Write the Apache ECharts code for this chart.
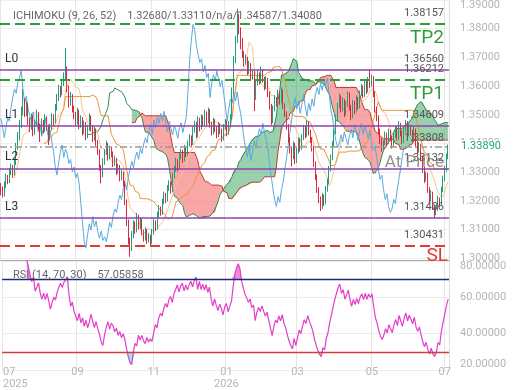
<!DOCTYPE html>
<html>
<head>
<meta charset="utf-8">
<script src="https://cdn.jsdelivr.net/npm/echarts@6/dist/echarts.min.js"></script>
<style>
  html, body { margin: 0; padding: 0; background: #fff; }
  #chart { width: 520px; height: 390px; }
</style>
</head>
<body>
<div id="chart"></div>
<script>
// daily bars: [open, high, low, close]
const bars = [
  [1.3248,1.3262,1.3220,1.3235],[1.3235,1.3250,1.3212,1.3222],[1.3222,1.3268,1.3215,1.3258],[1.3258,1.3295,1.3245,1.3281],
  [1.3281,1.3290,1.3258,1.3270],[1.3270,1.3315,1.3262,1.3302],[1.3302,1.3330,1.3290,1.3318],[1.3318,1.3325,1.3280,1.3296],
  [1.3296,1.3348,1.3288,1.3335],[1.3335,1.3402,1.3325,1.3390],[1.3390,1.3440,1.3378,1.3425],[1.3425,1.3482,1.3410,1.3468],
  [1.3468,1.3528,1.3455,1.3512],[1.3512,1.3590,1.3498,1.3545],[1.3545,1.3558,1.3492,1.3508],[1.3508,1.3548,1.3495,1.3532],
  [1.3532,1.3540,1.3465,1.3478],[1.3478,1.3490,1.3440,1.3455],[1.3455,1.3505,1.3448,1.3492],[1.3492,1.3498,1.3425,1.3440],
  [1.3440,1.3482,1.3430,1.3468],[1.3468,1.3518,1.3460,1.3501],[1.3501,1.3510,1.3448,1.3462],[1.3462,1.3470,1.3405,1.3436],
  [1.3436,1.3488,1.3428,1.3475],[1.3475,1.3482,1.3435,1.3449],[1.3449,1.3502,1.3440,1.3488],[1.3488,1.3495,1.3445,1.3458],
  [1.3458,1.3466,1.3395,1.3420],[1.3420,1.3468,1.3410,1.3455],[1.3455,1.3505,1.3446,1.3490],[1.3490,1.3502,1.3462,1.3478],
  [1.3478,1.3538,1.3470,1.3525],[1.3525,1.3572,1.3515,1.3560],[1.3560,1.3605,1.3548,1.3590],[1.3590,1.3600,1.3560,1.3575],
  [1.3575,1.3625,1.3568,1.3612],[1.3612,1.3648,1.3600,1.3630],[1.3630,1.3732,1.3622,1.3655],[1.3655,1.3668,1.3578,1.3590],
  [1.3590,1.3602,1.3525,1.3540],[1.3540,1.3580,1.3532,1.3565],[1.3565,1.3572,1.3508,1.3520],[1.3520,1.3532,1.3485,1.3498],
  [1.3498,1.3510,1.3462,1.3475],[1.3475,1.3525,1.3466,1.3510],[1.3510,1.3518,1.3450,1.3462],[1.3462,1.3498,1.3455,1.3485],
  [1.3485,1.3492,1.3428,1.3440],[1.3440,1.3480,1.3432,1.3468],[1.3468,1.3475,1.3412,1.3425],[1.3425,1.3465,1.3418,1.3452],
  [1.3452,1.3505,1.3445,1.3490],[1.3490,1.3498,1.3442,1.3455],[1.3455,1.3462,1.3405,1.3418],[1.3418,1.3458,1.3410,1.3446],
  [1.3446,1.3452,1.3392,1.3405],[1.3405,1.3412,1.3360,1.3372],[1.3372,1.3380,1.3305,1.3318],[1.3318,1.3325,1.3261,1.3290],
  [1.3290,1.3348,1.3282,1.3335],[1.3335,1.3380,1.3326,1.3368],[1.3368,1.3410,1.3360,1.3395],[1.3395,1.3402,1.3340,1.3352],
  [1.3352,1.3392,1.3345,1.3380],[1.3380,1.3388,1.3352,1.3365],[1.3365,1.3372,1.3318,1.3330],[1.3330,1.3358,1.3322,1.3345],
  [1.3345,1.3350,1.3290,1.3302],[1.3302,1.3330,1.3295,1.3318],[1.3318,1.3325,1.3268,1.3280],[1.3280,1.3308,1.3272,1.3296],
  [1.3296,1.3302,1.3250,1.3262],[1.3262,1.3270,1.3185,1.3195],[1.3195,1.3205,1.3112,1.3125],[1.3125,1.3135,1.3048,1.3060],
  [1.3060,1.3072,1.3005,1.3035],[1.3035,1.3095,1.3025,1.3082],[1.3082,1.3132,1.3070,1.3120],[1.3120,1.3128,1.3085,1.3098],
  [1.3098,1.3158,1.3090,1.3145],[1.3145,1.3152,1.3100,1.3110],[1.3110,1.3142,1.3102,1.3130],[1.3130,1.3138,1.3080,1.3092],
  [1.3092,1.3100,1.3058,1.3070],[1.3070,1.3108,1.3062,1.3095],[1.3095,1.3102,1.3050,1.3062],[1.3062,1.3088,1.3055,1.3075],
  [1.3075,1.3082,1.3043,1.3058],[1.3058,1.3102,1.3050,1.3090],[1.3090,1.3138,1.3082,1.3125],[1.3125,1.3132,1.3095,1.3108],
  [1.3108,1.3162,1.3100,1.3150],[1.3150,1.3185,1.3142,1.3172],[1.3172,1.3180,1.3148,1.3160],[1.3160,1.3208,1.3152,1.3195],
  [1.3195,1.3232,1.3188,1.3220],[1.3220,1.3228,1.3192,1.3205],[1.3205,1.3255,1.3198,1.3242],[1.3242,1.3272,1.3235,1.3260],
  [1.3260,1.3268,1.3225,1.3238],[1.3238,1.3298,1.3230,1.3285],[1.3285,1.3322,1.3278,1.3310],[1.3310,1.3350,1.3302,1.3338],
  [1.3338,1.3345,1.3302,1.3315],[1.3315,1.3365,1.3308,1.3352],[1.3352,1.3382,1.3345,1.3370],[1.3370,1.3378,1.3332,1.3345],
  [1.3345,1.3395,1.3338,1.3382],[1.3382,1.3390,1.3352,1.3365],[1.3365,1.3410,1.3358,1.3398],[1.3398,1.3432,1.3390,1.3420],
  [1.3420,1.3428,1.3390,1.3402],[1.3402,1.3458,1.3395,1.3445],[1.3445,1.3480,1.3438,1.3468],[1.3468,1.3475,1.3418,1.3430],
  [1.3430,1.3495,1.3422,1.3482],[1.3482,1.3490,1.3442,1.3455],[1.3455,1.3502,1.3448,1.3490],[1.3490,1.3498,1.3458,1.3470],
  [1.3470,1.3518,1.3462,1.3505],[1.3505,1.3512,1.3465,1.3478],[1.3478,1.3525,1.3470,1.3512],[1.3512,1.3520,1.3455,1.3468],
  [1.3468,1.3475,1.3428,1.3440],[1.3440,1.3490,1.3432,1.3478],[1.3478,1.3485,1.3440,1.3452],[1.3452,1.3460,1.3418,1.3430],
  [1.3430,1.3475,1.3422,1.3462],[1.3462,1.3470,1.3432,1.3445],[1.3445,1.3452,1.3405,1.3418],[1.3418,1.3468,1.3410,1.3455],
  [1.3455,1.3485,1.3448,1.3472],[1.3472,1.3480,1.3425,1.3438],[1.3438,1.3478,1.3430,1.3465],[1.3465,1.3502,1.3458,1.3490],
  [1.3490,1.3595,1.3482,1.3580],[1.3580,1.3705,1.3572,1.3690],[1.3690,1.3775,1.3680,1.3760],[1.3760,1.3870,1.3750,1.3815],
  [1.3815,1.3852,1.3780,1.3795],[1.3795,1.3805,1.3728,1.3742],[1.3742,1.3768,1.3698,1.3710],[1.3710,1.3722,1.3668,1.3682],
  [1.3682,1.3710,1.3675,1.3695],[1.3695,1.3702,1.3638,1.3650],[1.3650,1.3688,1.3642,1.3672],[1.3672,1.3680,1.3618,1.3630],
  [1.3630,1.3660,1.3622,1.3645],[1.3645,1.3652,1.3513,1.3560],[1.3560,1.3625,1.3552,1.3610],[1.3610,1.3655,1.3602,1.3640],
  [1.3640,1.3648,1.3605,1.3618],[1.3618,1.3668,1.3610,1.3652],[1.3652,1.3660,1.3612,1.3625],[1.3625,1.3632,1.3585,1.3598],
  [1.3598,1.3635,1.3590,1.3620],[1.3620,1.3628,1.3562,1.3575],[1.3575,1.3582,1.3518,1.3530],[1.3530,1.3538,1.3465,1.3478],
  [1.3478,1.3532,1.3470,1.3520],[1.3520,1.3568,1.3512,1.3555],[1.3555,1.3562,1.3528,1.3540],[1.3540,1.3588,1.3532,1.3575],
  [1.3575,1.3582,1.3535,1.3548],[1.3548,1.3595,1.3540,1.3580],[1.3580,1.3588,1.3520,1.3532],[1.3532,1.3540,1.3492,1.3505],
  [1.3505,1.3512,1.3448,1.3460],[1.3460,1.3468,1.3402,1.3415],[1.3415,1.3422,1.3365,1.3380],[1.3380,1.3390,1.3320,1.3352],
  [1.3352,1.3408,1.3345,1.3395],[1.3395,1.3402,1.3328,1.3340],[1.3340,1.3385,1.3332,1.3372],[1.3372,1.3422,1.3365,1.3410],
  [1.3410,1.3418,1.3372,1.3385],[1.3385,1.3432,1.3378,1.3420],[1.3420,1.3465,1.3412,1.3452],[1.3452,1.3460,1.3418,1.3430],
  [1.3430,1.3482,1.3422,1.3470],[1.3470,1.3478,1.3428,1.3440],[1.3440,1.3448,1.3402,1.3415],[1.3415,1.3422,1.3372,1.3385],
  [1.3385,1.3392,1.3318,1.3330],[1.3330,1.3338,1.3272,1.3285],[1.3285,1.3292,1.3228,1.3240],[1.3240,1.3248,1.3192,1.3205],
  [1.3205,1.3215,1.3165,1.3180],[1.3180,1.3228,1.3172,1.3215],[1.3215,1.3222,1.3182,1.3195],[1.3195,1.3252,1.3188,1.3240],
  [1.3240,1.3278,1.3232,1.3265],[1.3265,1.3322,1.3258,1.3310],[1.3310,1.3362,1.3302,1.3350],[1.3350,1.3408,1.3342,1.3395],
  [1.3395,1.3452,1.3388,1.3440],[1.3440,1.3498,1.3432,1.3485],[1.3485,1.3542,1.3478,1.3530],[1.3530,1.3575,1.3522,1.3560],
  [1.3560,1.3568,1.3508,1.3520],[1.3520,1.3560,1.3512,1.3548],[1.3548,1.3555,1.3492,1.3505],[1.3505,1.3548,1.3498,1.3535],
  [1.3535,1.3582,1.3528,1.3570],[1.3570,1.3578,1.3515,1.3528],[1.3528,1.3535,1.3482,1.3495],[1.3495,1.3552,1.3488,1.3540],
  [1.3540,1.3548,1.3502,1.3515],[1.3515,1.3568,1.3508,1.3555],[1.3555,1.3562,1.3518,1.3530],[1.3530,1.3585,1.3522,1.3572],
  [1.3572,1.3608,1.3565,1.3595],[1.3595,1.3602,1.3558,1.3570],[1.3570,1.3622,1.3562,1.3610],[1.3610,1.3618,1.3572,1.3585],
  [1.3585,1.3632,1.3578,1.3620],[1.3620,1.3659,1.3592,1.3605],[1.3605,1.3640,1.3598,1.3628],[1.3628,1.3635,1.3562,1.3575],
  [1.3575,1.3582,1.3508,1.3520],[1.3520,1.3528,1.3478,1.3490],[1.3490,1.3498,1.3432,1.3445],[1.3445,1.3452,1.3398,1.3410],
  [1.3410,1.3418,1.3372,1.3385],[1.3385,1.3412,1.3378,1.3402],[1.3402,1.3442,1.3395,1.3430],[1.3430,1.3438,1.3392,1.3405],
  [1.3405,1.3452,1.3398,1.3440],[1.3440,1.3448,1.3408,1.3418],[1.3418,1.3425,1.3382,1.3395],[1.3395,1.3440,1.3388,1.3428],
  [1.3428,1.3462,1.3420,1.3450],[1.3450,1.3458,1.3410,1.3420],[1.3420,1.3478,1.3412,1.3465],[1.3465,1.3472,1.3425,1.3438],
  [1.3438,1.3445,1.3398,1.3410],[1.3410,1.3458,1.3402,1.3445],[1.3445,1.3482,1.3438,1.3470],[1.3470,1.3478,1.3420,1.3432],
  [1.3432,1.3470,1.3425,1.3458],[1.3458,1.3465,1.3428,1.3440],[1.3440,1.3448,1.3405,1.3418],[1.3418,1.3458,1.3410,1.3445],
  [1.3445,1.3452,1.3388,1.3400],[1.3400,1.3408,1.3362,1.3375],[1.3375,1.3405,1.3368,1.3392],[1.3392,1.3398,1.3338,1.3350],
  [1.3350,1.3358,1.3298,1.3310],[1.3310,1.3318,1.3262,1.3275],[1.3275,1.3302,1.3268,1.3290],[1.3290,1.3298,1.3228,1.3240],
  [1.3240,1.3248,1.3192,1.3205],[1.3205,1.3238,1.3198,1.3225],[1.3225,1.3232,1.3168,1.3180],[1.3180,1.3188,1.3140,1.3160],
  [1.3160,1.3185,1.3150,1.3172],[1.3172,1.3218,1.3165,1.3205],[1.3205,1.3212,1.3178,1.3190],[1.3190,1.3250,1.3182,1.3238],
  [1.3238,1.3288,1.3230,1.3275],[1.3275,1.3322,1.3268,1.3310],[1.3310,1.3365,1.3302,1.3352],[1.3352,1.3396,1.3345,1.3389]
];

const firstDay = '2025-07-01';
const lastDay = '2026-07-03';

const levelPrices = [1.36560, 1.34609, 1.33132, 1.31406];
const levelNames = ['L0', 'L1', 'L2', 'L3'];
const targetPrices = [1.38157, 1.36212];
const targetNames = ['TP2', 'TP1'];
const stopPrice = 1.30431;
const entryPrice = 1.33808;
const lastPrice = 1.33890;
const rsiBands = [70, 30];

const ichimokuTitle = 'ICHIMOKU (9, 26, 52)    1.32680/1.33110/n/a/1.34587/1.34080';
const rsiTitle = 'RSI (14, 70, 30)    57.05858';

// trading days (weekdays) for the category axis
const dates = [];
for (let d = new Date(firstDay + 'T00:00:00Z'); d <= new Date(lastDay + 'T00:00:00Z'); d.setUTCDate(d.getUTCDate() + 1)) {
    const wd = d.getUTCDay();
    if (wd !== 0 && wd !== 6) dates.push(d.toISOString().slice(0, 10));
}

// first trading day of every odd month gets a label
const monthLabels = {};
dates.forEach((d, i) => {
    const m = d.slice(5, 7);
    if ((i === 0 || dates[i - 1].slice(5, 7) !== m) && Number(m) % 2 === 1) {
        monthLabels[i] = (i === 0 || m === '01') ? m + '\n' + d.slice(0, 4) : m;
    }
});

const highs = bars.map(b => b[1]);
const lows = bars.map(b => b[2]);
const closes = bars.map(b => b[3]);

function midpoint(n, i) {
    if (i < n - 1) return null;
    let hh = -Infinity, ll = Infinity;
    for (let k = i - n + 1; k <= i; k++) {
        hh = Math.max(hh, highs[k]);
        ll = Math.min(ll, lows[k]);
    }
    return (hh + ll) / 2;
}

const tenkan = closes.map((_, i) => midpoint(9, i));
const kijun = closes.map((_, i) => midpoint(26, i));
const spanA = closes.map((_, i) => {
    const j = i - 26;
    return j >= 0 && tenkan[j] != null && kijun[j] != null ? (tenkan[j] + kijun[j]) / 2 : null;
});
const spanB = closes.map((_, i) => (i - 26 >= 0 ? midpoint(52, i - 26) : null));
const chikou = closes.map((_, i) => (i + 26 < closes.length ? closes[i + 26] : null));

const cloudBase = spanA.map((a, i) => (a != null && spanB[i] != null ? Math.min(a, spanB[i]) : '-'));
const cloudUp = spanA.map((a, i) => (a != null && spanB[i] != null ? Math.max(a - spanB[i], 0) : '-'));
const cloudDown = spanA.map((a, i) => (a != null && spanB[i] != null ? Math.max(spanB[i] - a, 0) : '-'));

// RSI 14, Wilder smoothing
const rsi = closes.map(() => null);
let avgGain = 0, avgLoss = 0;
for (let i = 1; i < closes.length; i++) {
    const ch = closes[i] - closes[i - 1];
    const g = Math.max(ch, 0), l = Math.max(-ch, 0);
    if (i <= 14) {
        avgGain += g / 14;
        avgLoss += l / 14;
    } else {
        avgGain = (avgGain * 13 + g) / 14;
        avgLoss = (avgLoss * 13 + l) / 14;
    }
    if (i >= 14) rsi[i] = avgLoss === 0 ? 100 : 100 - 100 / (1 + avgGain / avgLoss);
}
const dash = v => (v == null ? '-' : v);
const rsiOverBase = rsi.map(v => (v == null ? '-' : rsiBands[0]));
const rsiOver = rsi.map(v => (v == null ? '-' : Math.max(v - rsiBands[0], 0)));
const rsiUnderBase = rsi.map(v => (v == null ? '-' : Math.min(v, rsiBands[1])));
const rsiUnder = rsi.map(v => (v == null ? '-' : rsiBands[1] - Math.min(v, rsiBands[1])));

const purple = '#8e44ad';
const green = '#2e9e3a';
const red = '#e53935';
const hidden = { opacity: 0 };
const noLine = { color: 'rgba(0,0,0,0)', width: 0 };

const priceLines = [];
levelPrices.forEach((p, i) => {
    priceLines.push({ yAxis: p, lineStyle: { color: purple, width: 1.5, type: 'solid' }, label: { position: 'insideEndTop', formatter: p.toFixed(5) } });
    priceLines.push({ yAxis: p, lineStyle: noLine, label: { position: 'insideStartTop', formatter: levelNames[i], color: '#333', fontSize: 12 } });
});
targetPrices.forEach((p, i) => {
    priceLines.push({ yAxis: p, lineStyle: { color: green, width: 2, type: [10, 5] }, label: { position: 'insideEndTop', formatter: p.toFixed(5) } });
    priceLines.push({ yAxis: p, lineStyle: noLine, label: { position: 'insideEndBottom', formatter: targetNames[i], color: green, fontSize: 19 } });
});
priceLines.push({ yAxis: stopPrice, lineStyle: { color: red, width: 2, type: [10, 5] }, label: { position: 'insideEndTop', formatter: stopPrice.toFixed(5) } });
priceLines.push({ yAxis: stopPrice, lineStyle: noLine, label: { position: 'insideEndBottom', formatter: 'SL', color: red, fontSize: 19, distance: 1 } });
priceLines.push({ yAxis: entryPrice, lineStyle: noLine, label: { position: 'insideEndTop', formatter: entryPrice.toFixed(5) } });
priceLines.push({ yAxis: entryPrice, lineStyle: noLine, label: { position: 'insideEndBottom', formatter: 'At Price', color: 'rgba(110,110,110,0.75)', fontSize: 17 } });
priceLines.push({
    yAxis: lastPrice,
    lineStyle: { color: '#999', width: 1.5, type: [7, 3, 2, 3] },
    label: { position: 'end', distance: 9, formatter: lastPrice.toFixed(5), color: '#23a383', backgroundColor: '#fff', padding: [1, 3] }
});

const splitAt = i => i in monthLabels;

const chart = echarts.init(document.getElementById('chart'));
chart.setOption({
    animation: false,
    textStyle: { fontFamily: 'Roboto' },
    title: [
        { text: ichimokuTitle, left: 8, top: 6, textStyle: { fontSize: 11, fontWeight: 'normal', color: '#666' } },
        { text: rsiTitle, left: 8, top: 265, textStyle: { fontSize: 11, fontWeight: 'normal', color: '#666' } }
    ],
    grid: [
        { left: 0, right: 71, top: 0, height: 260 },
        { left: 0, right: 71, top: 261, height: 112 }
    ],
    xAxis: [
        {
            type: 'category', gridIndex: 0, data: dates,
            axisLine: { show: true, lineStyle: { color: '#aaa' } },
            axisTick: { show: false }, axisLabel: { show: false },
            splitLine: { show: true, interval: splitAt, lineStyle: { color: '#e6e6e6' } }
        },
        {
            type: 'category', gridIndex: 1, data: dates,
            axisLine: { show: false }, axisTick: { show: false },
            axisLabel: {
                interval: splitAt, formatter: (v, i) => monthLabels[i] || '',
                color: '#b5b5b5', fontSize: 11, lineHeight: 12, margin: -4, alignMinLabel: 'left'
            },
            splitLine: { show: true, interval: splitAt, lineStyle: { color: '#e6e6e6' } }
        }
    ],
    yAxis: [
        {
            type: 'value', gridIndex: 0, position: 'right', min: 1.2994, max: 1.39,
            splitNumber: 9, minInterval: 0.01, maxInterval: 0.01,
            axisLine: { show: true, lineStyle: { color: '#ddd' } }, axisTick: { show: false },
            axisLabel: { color: '#b5b5b5', fontSize: 11, margin: 11, formatter: v => v.toFixed(5), showMinLabel: false, verticalAlignMaxLabel: 'top' },
            splitLine: { lineStyle: { color: '#f0f0f0' } }
        },
        {
            type: 'value', gridIndex: 1, position: 'right', min: 20, max: 80, interval: 20,
            axisLine: { show: true, lineStyle: { color: '#ddd' } }, axisTick: { show: false },
            axisLabel: { color: '#b5b5b5', fontSize: 11, margin: 11, formatter: v => v.toFixed(5), verticalAlignMaxLabel: 'top', verticalAlignMinLabel: 'bottom' },
            splitLine: { lineStyle: { color: '#ececec' } }
        }
    ],
    series: [
        { type: 'line', data: cloudBase, stack: 'cloud', symbol: 'none', lineStyle: hidden, z: 1, silent: true },
        { type: 'line', data: cloudUp, stack: 'cloud', symbol: 'none', lineStyle: hidden, areaStyle: { color: 'rgba(46,160,90,0.7)' }, z: 1, silent: true },
        { type: 'line', data: cloudDown, stack: 'cloud', symbol: 'none', lineStyle: hidden, areaStyle: { color: 'rgba(240,60,60,0.65)' }, z: 1, silent: true },
        { type: 'line', data: spanA.map(dash), symbol: 'none', lineStyle: { color: '#2f8a4f', width: 1 }, z: 2 },
        { type: 'line', data: spanB.map(dash), symbol: 'none', lineStyle: { color: '#c0392b', width: 1 }, z: 2 },
        { type: 'line', data: tenkan.map(dash), symbol: 'none', lineStyle: { color: '#f7c38f', width: 1 }, z: 2 },
        { type: 'line', data: kijun.map(dash), symbol: 'none', lineStyle: { color: '#e8953a', width: 1 }, z: 2 },
        { type: 'line', data: chikou.map(dash), symbol: 'none', lineStyle: { color: '#5aa9dd', width: 1 }, z: 2 },
        {
            type: 'candlestick', barWidth: '65%', z: 3,
            data: bars.map(b => [b[0], b[3], b[2], b[1]]),
            itemStyle: { color: '#1f9f7c', color0: '#e3263c', borderColor: '#1f9f7c', borderColor0: '#e3263c', borderWidth: 1 },
            markLine: {
                symbol: ['none', 'none'], silent: true, animation: false, precision: 5,
                label: { color: '#555', fontSize: 11 },
                data: priceLines
            }
        },
        { type: 'line', xAxisIndex: 1, yAxisIndex: 1, data: rsiOverBase, stack: 'ob', symbol: 'none', lineStyle: hidden, silent: true },
        { type: 'line', xAxisIndex: 1, yAxisIndex: 1, data: rsiOver, stack: 'ob', symbol: 'none', lineStyle: hidden, areaStyle: { color: 'rgba(230,60,200,0.85)' }, silent: true },
        { type: 'line', xAxisIndex: 1, yAxisIndex: 1, data: rsiUnderBase, stack: 'os', symbol: 'none', lineStyle: hidden, silent: true },
        { type: 'line', xAxisIndex: 1, yAxisIndex: 1, data: rsiUnder, stack: 'os', symbol: 'none', lineStyle: hidden, areaStyle: { color: 'rgba(90,210,240,0.85)' }, silent: true },
        {
            type: 'line', xAxisIndex: 1, yAxisIndex: 1, data: rsi.map(dash), symbol: 'none',
            lineStyle: { color: '#e23fc8', width: 1.2 }, z: 3,
            markLine: {
                symbol: ['none', 'none'], silent: true, animation: false, label: { show: false },
                data: [
                    { yAxis: rsiBands[0], lineStyle: { color: '#1c2a7a', width: 1.3, type: 'solid' } },
                    { yAxis: rsiBands[1], lineStyle: { color: '#d63a3a', width: 1.3, type: 'solid' } }
                ]
            }
        }
    ]
});
</script>
</body>
</html>
